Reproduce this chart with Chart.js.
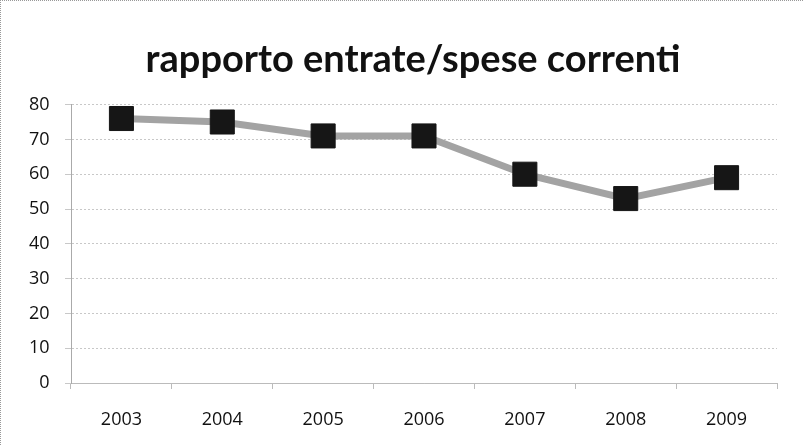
<!DOCTYPE html>
<html>
<head>
<meta charset="utf-8">
<script src="https://cdn.jsdelivr.net/npm/chart.js"></script>
<style>
  html, body { margin: 0; padding: 0; background: #fff; overflow: hidden; }
  #wrap { position: relative; width: 803px; height: 445px; box-sizing: border-box;
          border-top: 1px dotted #999; border-left: 1px dotted #999; }
  canvas { display: block; }
</style>
</head>
<body>
<div id="wrap"><canvas id="grafico" width="802" height="444"></canvas></div>
<script>
const anni = ['2003', '2004', '2005', '2006', '2007', '2008', '2009'];
const rapporto = [76, 75, 71, 71, 60, 53, 59];
const tickY = [0, 10, 20, 30, 40, 50, 60, 70, 80];

const ctx = document.getElementById('grafico').getContext('2d');
new Chart(ctx, {
    type: 'line',
    data: {
        labels: anni,
        datasets: [{
            label: 'rapporto',
            data: rapporto,
            borderColor: '#a3a3a3',
            borderWidth: 7,
            pointStyle: 'rect',
            pointRadius: 17,
            pointBackgroundColor: '#161616',
            pointBorderColor: '#161616',
            pointBorderWidth: 1,
            tension: 0
        }]
    },
    options: {
        responsive: false,
        animation: false,
        layout: { padding: { left: 48, right: 26, top: 36, bottom: 0 } },
        plugins: {
            legend: { display: false },
            tooltip: { enabled: false },
            title: {
                display: true,
                text: 'rapporto entrate/spese correnti',
                color: '#111',
                font: { family: 'Lato', size: 38, weight: 'bold' },
                padding: { top: 0, bottom: 22 }
            }
        },
        scales: {
            x: {
                offset: true,
                grid: { offset: true, drawOnChartArea: false, color: '#bbb', tickLength: 6 },
                border: { color: '#bbb', dash: [2, 3] },
                ticks: { color: '#111', font: { family: 'Open Sans', size: 18 }, padding: 20 },
                afterFit: axis => { axis.height = 62; }
            },
            y: {
                min: 0,
                max: 80,
                afterBuildTicks: axis => { axis.ticks = tickY.map(v => ({ value: v })); },
                grid: { color: '#c8c8c8', lineWidth: 1, tickLength: 6 },
                border: { color: '#aaa', dash: [2, 2] },
                // labels sit left of the narrow axis box, so draw them unclipped
                ticks: { color: '#111', font: { family: 'Open Sans', size: 18 },
                         mirror: true, crossAlign: 'far', padding: -42 },
                afterFit: axis => { axis.width = 22; }
            }
        }
    }
});
</script>
</body>
</html>
